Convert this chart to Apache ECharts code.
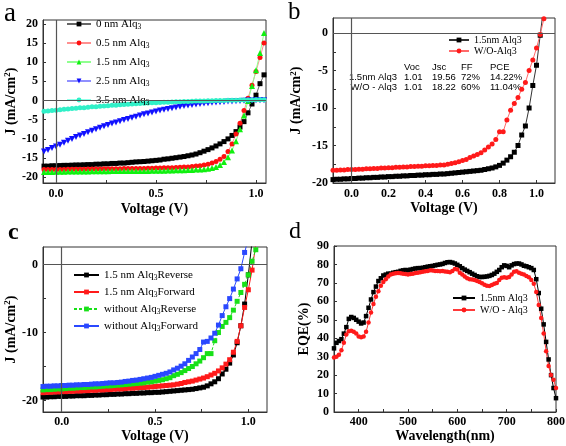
<!DOCTYPE html>
<html><head><meta charset="utf-8">
<script src="https://cdn.jsdelivr.net/npm/echarts@6/dist/echarts.min.js"></script>
<style>html,body{margin:0;padding:0;background:#fff}#c{width:566px;height:446px}</style>
</head><body><div id="c"></div>
<script>
// ---------- Panel a : J-V for different Alq3 thickness ----------
const V_A = [-0.06,-0.04,-0.02,0,0.02,0.04,0.06,0.08,0.1,0.12,
0.14,0.16,0.18,0.2,0.22,0.24,0.26,0.28,0.3,0.32,
0.34,0.36,0.38,0.4,0.42,0.44,0.46,0.48,0.5,0.52,
0.54,0.56,0.58,0.6,0.62,0.64,0.66,0.68,0.7,0.72,
0.74,0.76,0.78,0.8,0.82,0.84,0.86,0.88,0.9,0.92,
0.94,0.96,0.98,1.0,1.02,1.04];
const A_NAMES = ['0 nm Alq3','0.5 nm Alq3','1.5 nm Alq3','2.5 nm Alq3','3.5 nm Alq3'];
const J_A0 = [-17.1,-17.1,-17.0,-17.0,-16.95,-16.9,-16.9,-16.85,-16.8,-16.8,
-16.75,-16.7,-16.7,-16.6,-16.6,-16.5,-16.5,-16.4,-16.4,-16.3,
-16.3,-16.2,-16.1,-16.0,-15.95,-15.9,-15.8,-15.7,-15.6,-15.5,
-15.3,-15.2,-15.05,-14.9,-14.75,-14.6,-14.4,-14.2,-13.95,-13.6,
-13.2,-12.8,-12.35,-11.85,-11.3,-10.7,-10.0,-9.1,-8.1,-6.9,
-5.5,-3.2,-0.9,1.4,4.4,6.7];
const J_A1 = [-18.0,-18.0,-18.0,-17.95,-17.95,-17.95,-17.9,-17.9,-17.9,-17.9,
-17.9,-17.85,-17.85,-17.85,-17.85,-17.8,-17.8,-17.8,-17.8,-17.8,
-17.75,-17.75,-17.75,-17.7,-17.7,-17.7,-17.65,-17.65,-17.6,-17.6,
-17.55,-17.5,-17.5,-17.45,-17.4,-17.35,-17.3,-17.2,-17.1,-17.0,
-16.8,-16.6,-16.3,-15.9,-15.3,-14.6,-13.3,-11.3,-8.7,-5.9,
-2.6,0.6,4.0,7.6,11.2,15.0];
const J_A2 = [-18.6,-18.6,-18.6,-18.55,-18.55,-18.55,-18.5,-18.5,-18.5,-18.5,
-18.5,-18.5,-18.45,-18.45,-18.45,-18.45,-18.45,-18.4,-18.4,-18.4,
-18.4,-18.4,-18.4,-18.35,-18.35,-18.35,-18.35,-18.3,-18.3,-18.3,
-18.3,-18.25,-18.25,-18.2,-18.2,-18.15,-18.1,-18.1,-18.0,-17.95,
-17.9,-17.8,-17.6,-17.3,-16.8,-16.0,-14.8,-13.0,-10.6,-7.5,
-3.9,-0.1,3.8,7.9,12.4,17.6];
const J_A3 = [-13.3,-12.9,-12.4,-12.0,-11.5,-11.0,-10.5,-10.0,-9.5,-9.1,
-8.7,-8.3,-7.9,-7.5,-7.1,-6.7,-6.4,-6.0,-5.7,-5.4,
-5.1,-4.8,-4.5,-4.2,-3.9,-3.6,-3.35,-3.1,-2.85,-2.6,
-2.4,-2.2,-2.0,-1.8,-1.6,-1.45,-1.3,-1.15,-1.0,-0.9,
-0.8,-0.7,-0.6,-0.5,-0.42,-0.35,-0.28,-0.22,-0.16,-0.1,
-0.05,0,0.03,0.06,0.08,0.1];
const J_A4 = [-2.8,-2.7,-2.6,-2.5,-2.4,-2.3,-2.2,-2.1,-2.0,-1.9,
-1.85,-1.75,-1.65,-1.6,-1.5,-1.4,-1.35,-1.25,-1.2,-1.1,
-1.05,-0.95,-0.9,-0.85,-0.8,-0.7,-0.65,-0.6,-0.55,-0.5,
-0.45,-0.42,-0.38,-0.34,-0.3,-0.26,-0.22,-0.18,-0.15,-0.12,
-0.09,-0.06,-0.03,0,0.02,0.04,0.06,0.08,0.1,0.12,
0.14,0.15,0.17,0.18,0.19,0.2];
const A_XLABELS = [0,0.5,1.0];
const A_XTICKS = [0,0.25,0.5,0.75,1.0];
const A_YLABELS = [-20,-15,-10,-5,0,5,10,15,20];

// ---------- Panel b ----------
const V_B = [-0.1,-0.08,-0.06,-0.04,-0.02,0,0.02,0.04,0.06,0.08,
0.1,0.12,0.14,0.16,0.18,0.2,0.22,0.24,0.26,0.28,
0.3,0.32,0.34,0.36,0.38,0.4,0.42,0.44,0.46,0.48,
0.5,0.52,0.54,0.56,0.58,0.6,0.62,0.64,0.66,0.68,
0.7,0.72,0.74,0.76,0.78,0.8,0.82,0.84,0.86,0.88,
0.9,0.92,0.94,0.96,0.98,1.0,1.02,1.04];
const B_NAMES = ['1.5nm Alq3','W/O-Alq3'];
const J_B0 = [-19.55,-19.5,-19.5,-19.45,-19.45,-19.4,-19.4,-19.35,-19.35,-19.3,
-19.3,-19.25,-19.25,-19.2,-19.2,-19.15,-19.15,-19.1,-19.1,-19.05,
-19.05,-19.0,-19.0,-18.95,-18.95,-18.9,-18.9,-18.85,-18.85,-18.8,
-18.8,-18.75,-18.7,-18.65,-18.6,-18.55,-18.5,-18.45,-18.4,-18.35,
-18.3,-18.2,-18.1,-18.0,-17.85,-17.65,-17.35,-16.95,-16.5,-15.9,
-15.0,-13.6,-12.4,-10.0,-7.0,-4.3,-0.3,3.8];
const J_B1 = [-18.3,-18.3,-18.25,-18.25,-18.2,-18.2,-18.2,-18.15,-18.15,-18.1,
-18.1,-18.05,-18.05,-18.0,-18.0,-17.95,-17.95,-17.9,-17.9,-17.85,
-17.85,-17.8,-17.8,-17.75,-17.75,-17.7,-17.7,-17.65,-17.65,-17.6,
-17.6,-17.5,-17.4,-17.3,-17.15,-17.0,-16.85,-16.6,-16.4,-16.2,
-15.95,-15.6,-15.2,-14.8,-14.2,-13.15,-13.15,-11.6,-10.3,-9.4,
-8.6,-7.5,-6.6,-5.0,-3.6,-2.0,-0.2,1.9];
const B_XLABELS = [0,0.2,0.4,0.6,0.8,1.0];
const B_YLABELS = [-20,-15,-10,-5,0];
const B_YTICKS = [-20,-17.5,-15,-12.5,-10,-7.5,-5,-2.5,0];
const TABLE_COLS = ['Voc','Jsc','FF','PCE'];
const TABLE_ROWS = ['1.5nm Alq3','W/O - Alq3'];
const TABLE_VALS = [['1.01','19.56','72%','14.22%'],['1.01','18.22','60%','11.04%']];

// ---------- Panel c ----------
const V_C = V_B;
const C_NAMES = ['1.5 nm Alq3Reverse','1.5 nm Alq3Forward','without Alq3Reverse','without Alq3Forward'];
const J_C0 = [-19.5,-19.5,-19.45,-19.45,-19.4,-19.4,-19.4,-19.35,-19.35,-19.3,
-19.3,-19.3,-19.25,-19.25,-19.2,-19.2,-19.15,-19.15,-19.1,-19.1,
-19.05,-19.05,-19.0,-19.0,-18.95,-18.95,-18.9,-18.9,-18.85,-18.85,
-18.8,-18.8,-18.75,-18.7,-18.65,-18.6,-18.55,-18.5,-18.45,-18.4,
-18.35,-18.25,-18.15,-18.05,-17.85,-17.55,-17.25,-16.8,-16.1,-15.4,
-14.5,-13.3,-11.5,-9.0,-5.8,-1.5,3.5,8.0];
const J_C1 = [-18.85,-18.8,-18.8,-18.75,-18.75,-18.7,-18.7,-18.65,-18.65,-18.6,
-18.6,-18.55,-18.55,-18.5,-18.5,-18.45,-18.45,-18.4,-18.4,-18.35,
-18.3,-18.3,-18.25,-18.2,-18.2,-18.15,-18.1,-18.1,-18.05,-18.0,
-17.95,-17.9,-17.85,-17.8,-17.75,-17.7,-17.6,-17.5,-17.35,-17.25,
-17.15,-17.0,-16.85,-16.7,-16.5,-16.25,-16.0,-15.65,-15.2,-14.65,
-14.0,-12.9,-11.3,-9.0,-6.3,-3.7,-0.8,3.0];
const J_C2 = [-18.45,-18.4,-18.4,-18.35,-18.3,-18.3,-18.25,-18.2,-18.2,-18.15,
-18.1,-18.1,-18.05,-18.0,-18.0,-17.95,-17.9,-17.85,-17.85,-17.8,
-17.75,-17.7,-17.65,-17.6,-17.55,-17.5,-17.45,-17.4,-17.3,-17.25,
-17.15,-17.05,-16.95,-16.8,-16.65,-16.35,-16.15,-15.9,-15.6,-15.3,
-15.0,-14.6,-14.2,-13.7,-13.1,-13.1,-11.2,-10.0,-9.1,-8.5,
-7.8,-6.7,-5.4,-4.1,-2.9,-1.5,0.5,2.2];
const J_C3 = [-17.95,-17.9,-17.9,-17.85,-17.85,-17.8,-17.8,-17.75,-17.75,-17.7,
-17.7,-17.65,-17.65,-17.6,-17.55,-17.55,-17.5,-17.45,-17.4,-17.4,
-17.35,-17.3,-17.2,-17.15,-17.05,-17.0,-16.9,-16.8,-16.7,-16.6,
-16.45,-16.3,-16.15,-16.0,-15.8,-15.5,-15.25,-14.95,-14.6,-14.1,
-13.6,-13.1,-12.5,-11.4,-11.3,-10.8,-10.1,-8.9,-7.5,-6.2,
-5.0,-3.6,-2.1,-0.6,1.8,3.8];
const C_XLABELS = [0,0.5,1.0];
const C_XTICKS = [0,0.25,0.5,0.75,1.0];
const C_YLABELS = [-20,-10,0];
const C_YTICKS = [-20,-15,-10,-5,0];

// ---------- Panel d : EQE ----------
const W_D = [350,355,360,365,370,375,380,385,390,395,
400,405,410,415,420,425,430,435,440,445,
450,455,460,465,470,475,480,485,490,495,
500,505,510,515,520,525,530,535,540,545,
550,555,560,565,570,575,580,585,590,595,
600,605,610,615,620,625,630,635,640,645,
650,655,660,665,670,675,680,685,690,695,
700,705,710,715,720,725,730,735,740,745,
750,755,760,765,770,775,780,785,790,795,
800];
const D_NAMES = ['1.5nm Alq3','W/O - Alq3'];
const EQE_D0 = [34.5,37.5,38.5,39.5,42.5,46.0,50.5,51.5,51.0,50.0,
49.0,48.0,48.5,52.0,56.5,61.0,65.0,68.0,71.0,72.5,
74.0,74.5,75.0,75.0,75.5,75.8,76.0,76.5,76.8,77.0,
76.8,77.2,77.5,77.8,78.0,78.0,78.2,78.5,78.8,79.0,
79.2,79.5,79.8,80.0,80.3,80.8,81.2,81.3,81.0,80.5,
79.8,79.0,78.0,77.2,76.5,75.8,75.0,74.3,73.6,73.2,
73.2,73.3,73.5,73.8,74.3,75.0,76.0,77.0,78.5,79.5,
79.2,78.5,79.5,80.2,80.5,80.5,80.0,79.3,79.0,78.5,
78.0,77.0,72.0,64.5,56.0,47.5,38.0,28.5,20.0,13.0,
7.5];
const EQE_D1 = [29.5,30.0,31.0,33.5,37.5,42.0,43.8,44.0,43.5,42.5,
41.0,40.5,41.0,43.5,48.5,54.0,58.5,62.5,65.5,68.5,
70.5,72.0,73.5,74.5,75.0,75.2,75.3,75.2,75.0,74.8,
74.5,74.8,75.0,75.3,75.5,75.8,76.0,76.3,76.5,76.8,
76.7,76.5,76.5,76.3,76.5,76.2,76.0,75.8,76.5,77.5,
77.2,75.5,74.5,73.5,72.5,72.0,71.8,71.5,71.0,70.5,
69.8,69.0,68.5,68.3,68.8,69.5,70.0,71.5,72.8,73.0,
72.8,73.2,74.5,76.0,76.3,75.5,75.0,74.5,73.8,73.0,
71.5,69.5,65.0,58.0,51.0,42.5,33.0,25.0,20.0,17.5,
13.0];
const D_XLABELS = [400,500,600,700,800];
const D_XTICKS = [400,450,500,550,600,650,700,750,800];
const D_YLABELS = [0,10,20,30,40,50,60,70,80,90];

// ---------- build ----------
const SERIF = 'Liberation Serif';
const SANS = 'Liberation Sans';
const pairs = (xs, ys) => ys.map((y, i) => [xs[i], y]);
const labelStyle = {fontFamily: SERIF, fontWeight: 'bold', fontSize: 12, color: '#000'};
const nameStyle = {fontFamily: SERIF, fontWeight: 'bold', fontSize: 14, color: '#000',
  rich: {p: {fontFamily: SERIF, fontWeight: 'bold', fontSize: 9, color: '#000', verticalAlign: 'top', padding: [0, 0, 6, 0]}}};

function axis(g, min, max, labels, ticks, name, gap, fmt, margin) {
  return {
    type: 'value', gridIndex: g, min: min, max: max, name: name,
    nameLocation: 'middle', nameGap: gap, nameTextStyle: nameStyle,
    axisLine: {show: true, onZero: false, lineStyle: {color: '#333', width: 1}},
    axisTick: {show: true, inside: true, length: 3, customValues: ticks, lineStyle: {color: '#333'}},
    axisLabel: Object.assign({customValues: labels, formatter: fmt, margin: margin}, labelStyle),
    splitLine: {show: false}
  };
}
const f1 = v => Number(v).toFixed(1);
const f0 = v => String(Math.round(v));

function ser(name, g, data, color, lineColor, symbol, size, extra) {
  return Object.assign({
    name: name, type: 'line', xAxisIndex: g, yAxisIndex: g, data: data,
    symbol: symbol, symbolSize: size, showSymbol: true, animation: false,
    itemStyle: {color: color, borderWidth: 0},
    lineStyle: {color: lineColor, width: 1},
    emphasis: {disabled: true}, clip: true
  }, extra || {});
}
const zeroLines = {
  silent: true, symbol: ['none', 'none'], animation: false,
  label: {show: false}, lineStyle: {color: '#555', width: 1.2, type: 'solid'},
  data: [{xAxis: 0}, {yAxis: 0}]
};

const gridBox = {show: true, borderColor: '#333', borderWidth: 1, backgroundColor: 'transparent', containLabel: false, outerBoundsMode: 'none'};
const grids = [
  Object.assign({left: 43, top: 20, width: 223, height: 163}, gridBox),
  Object.assign({left: 333, top: 18, width: 222, height: 165}, gridBox),
  Object.assign({left: 43, top: 247, width: 224, height: 165}, gridBox),
  Object.assign({left: 334, top: 246, width: 222, height: 166}, gridBox)
];

const jName = 'J (mA/cm{p|2})';
const xAxes = [
  axis(0, -0.065, 1.05, A_XLABELS, A_XTICKS, 'Voltage (V)', 19, f1, 5),
  axis(1, -0.1, 1.1, B_XLABELS, B_XLABELS, 'Voltage (V)', 17, f1, 5),
  axis(2, -0.1, 1.1, C_XLABELS, C_XTICKS, 'Voltage (V)', 15, f1, 4),
  axis(3, 350, 800, D_XLABELS, D_XTICKS, 'Wavelength(nm)', 15, f0, 4)
];
const yAxes = [
  axis(0, -21.5, 21, A_YLABELS, A_YLABELS, jName, 24, f0, 5),
  axis(1, -20, 2, B_YLABELS, B_YTICKS, jName, 29, f0, 5),
  axis(2, -21.7, 2.6, C_YLABELS, C_YTICKS, jName, 24, f0, 5),
  axis(3, 0, 90, D_YLABELS, D_YLABELS, 'EQE(%)', 23, f0, 5)
];

const series = [
  ser('a:' + A_NAMES[0], 0, pairs(V_A, J_A0), '#000000', '#666666', 'rect', 5, {markLine: zeroLines}),
  ser('a:' + A_NAMES[1], 0, pairs(V_A, J_A1), '#ff1010', '#ff9090', 'circle', 5),
  ser('a:' + A_NAMES[2], 0, pairs(V_A, J_A2), '#10f010', '#90ff90', 'triangle', 6),
  ser('a:' + A_NAMES[3], 0, pairs(V_A, J_A3), '#1010ff', '#9090ff', 'triangle', 6, {symbolRotate: 180}),
  ser('a:' + A_NAMES[4], 0, pairs(V_A, J_A4), '#30f0c8', '#90ffe8', 'circle', 5),

  ser('b:' + B_NAMES[0], 1, pairs(V_B, J_B0), '#000000', '#333333', 'rect', 5, {markLine: zeroLines}),
  ser('b:' + B_NAMES[1], 1, pairs(V_B, J_B1), '#ff1a1a', '#ff6a6a', 'circle', 5),

  ser('c:' + C_NAMES[0], 2, pairs(V_C, J_C0), '#000000', '#000000', 'rect', 5, {markLine: zeroLines}),
  ser('c:' + C_NAMES[1], 2, pairs(V_C, J_C1), '#ff1a1a', '#ff1a1a', 'rect', 5),
  ser('c:' + C_NAMES[2], 2, pairs(V_C, J_C2), '#18e018', '#18e018', 'rect', 5, {lineStyle: {color: '#18e018', width: 1, type: [3, 2]}}),
  ser('c:' + C_NAMES[3], 2, pairs(V_C, J_C3), '#2a48ff', '#2a48ff', 'rect', 5),

  ser('d:' + D_NAMES[0], 3, pairs(W_D, EQE_D0), '#000000', '#000000', 'rect', 4.5),
  ser('d:' + D_NAMES[1], 3, pairs(W_D, EQE_D1), '#ff1a1a', '#ff3a3a', 'circle', 4.5)
];

const subRich = (fs) => ({s: {fontFamily: SERIF, fontSize: fs - 3.5, color: '#000', verticalAlign: 'bottom', padding: [5, 0, 0, 0]}});
const subFmt = n => n.slice(2).replace(/Alq3/, 'Alq{s|3}');
const plainFmt = n => n.slice(2);
const legends = [
  {left: 66, top: 17, orient: 'vertical', itemWidth: 24, itemHeight: 6, itemGap: 5,
   data: A_NAMES.map(n => 'a:' + n), formatter: subFmt,
   textStyle: {fontFamily: SERIF, fontSize: 11, color: '#000', lineHeight: 14, rich: subRich(11)}},
  {left: 448, top: 35, orient: 'vertical', itemWidth: 20, itemHeight: 6, itemGap: 1,
   data: B_NAMES.map(n => 'b:' + n), formatter: plainFmt,
   textStyle: {fontFamily: SERIF, fontSize: 10, color: '#000', lineHeight: 10}},
  {left: 73, top: 268, orient: 'vertical', itemWidth: 25, itemHeight: 6, itemGap: 3,
   data: C_NAMES.map(n => 'c:' + n), formatter: subFmt,
   textStyle: {fontFamily: SERIF, fontSize: 11, color: '#000', lineHeight: 14, rich: subRich(11)}},
  {left: 452, top: 293, orient: 'vertical', itemWidth: 22, itemHeight: 6, itemGap: 2,
   data: D_NAMES.map(n => 'd:' + n), formatter: plainFmt,
   textStyle: {fontFamily: SERIF, fontSize: 10, color: '#000', lineHeight: 10}}
].map(l => Object.assign({selectedMode: false, padding: 0, icon: undefined}, l));

// table in panel b + panel letters
const graphic = [];
const colX = [404, 432, 461, 490];
const rowY = [67, 77, 87];
TABLE_COLS.forEach((t, i) => graphic.push({type: 'text', x: colX[i], y: rowY[0],
  style: {text: t, font: '9.5px ' + SANS, fill: '#000', verticalAlign: 'middle'}}));
TABLE_ROWS.forEach((r, j) => {
  graphic.push({type: 'text', x: 397, y: rowY[j + 1],
    style: {text: r, font: '9.5px ' + SANS, fill: '#000', align: 'right', verticalAlign: 'middle'}});
  TABLE_VALS[j].forEach((v, i) => graphic.push({type: 'text', x: colX[i], y: rowY[j + 1],
    style: {text: v, font: '9.5px ' + SANS, fill: '#000', verticalAlign: 'middle'}}));
});
const LETTERS = ['a', 'b', 'c', 'd'];
const letterPos = [[4, 14, 'normal', 27], [288, 12, 'normal', 25], [8, 233, 'bold', 24], [289, 232, 'normal', 24]];
LETTERS.forEach((t, i) => graphic.push({type: 'text', x: letterPos[i][0], y: letterPos[i][1],
  style: {text: t, font: letterPos[i][2] + ' ' + letterPos[i][3] + 'px ' + SERIF, fill: '#000', verticalAlign: 'middle'}}));

const chart = echarts.init(document.getElementById('c'), null, {renderer: 'canvas'});
chart.setOption({
  animation: false,
  backgroundColor: '#fff',
  grid: grids, xAxis: xAxes, yAxis: yAxes, series: series,
  legend: legends, graphic: graphic
});
</script></body></html>
